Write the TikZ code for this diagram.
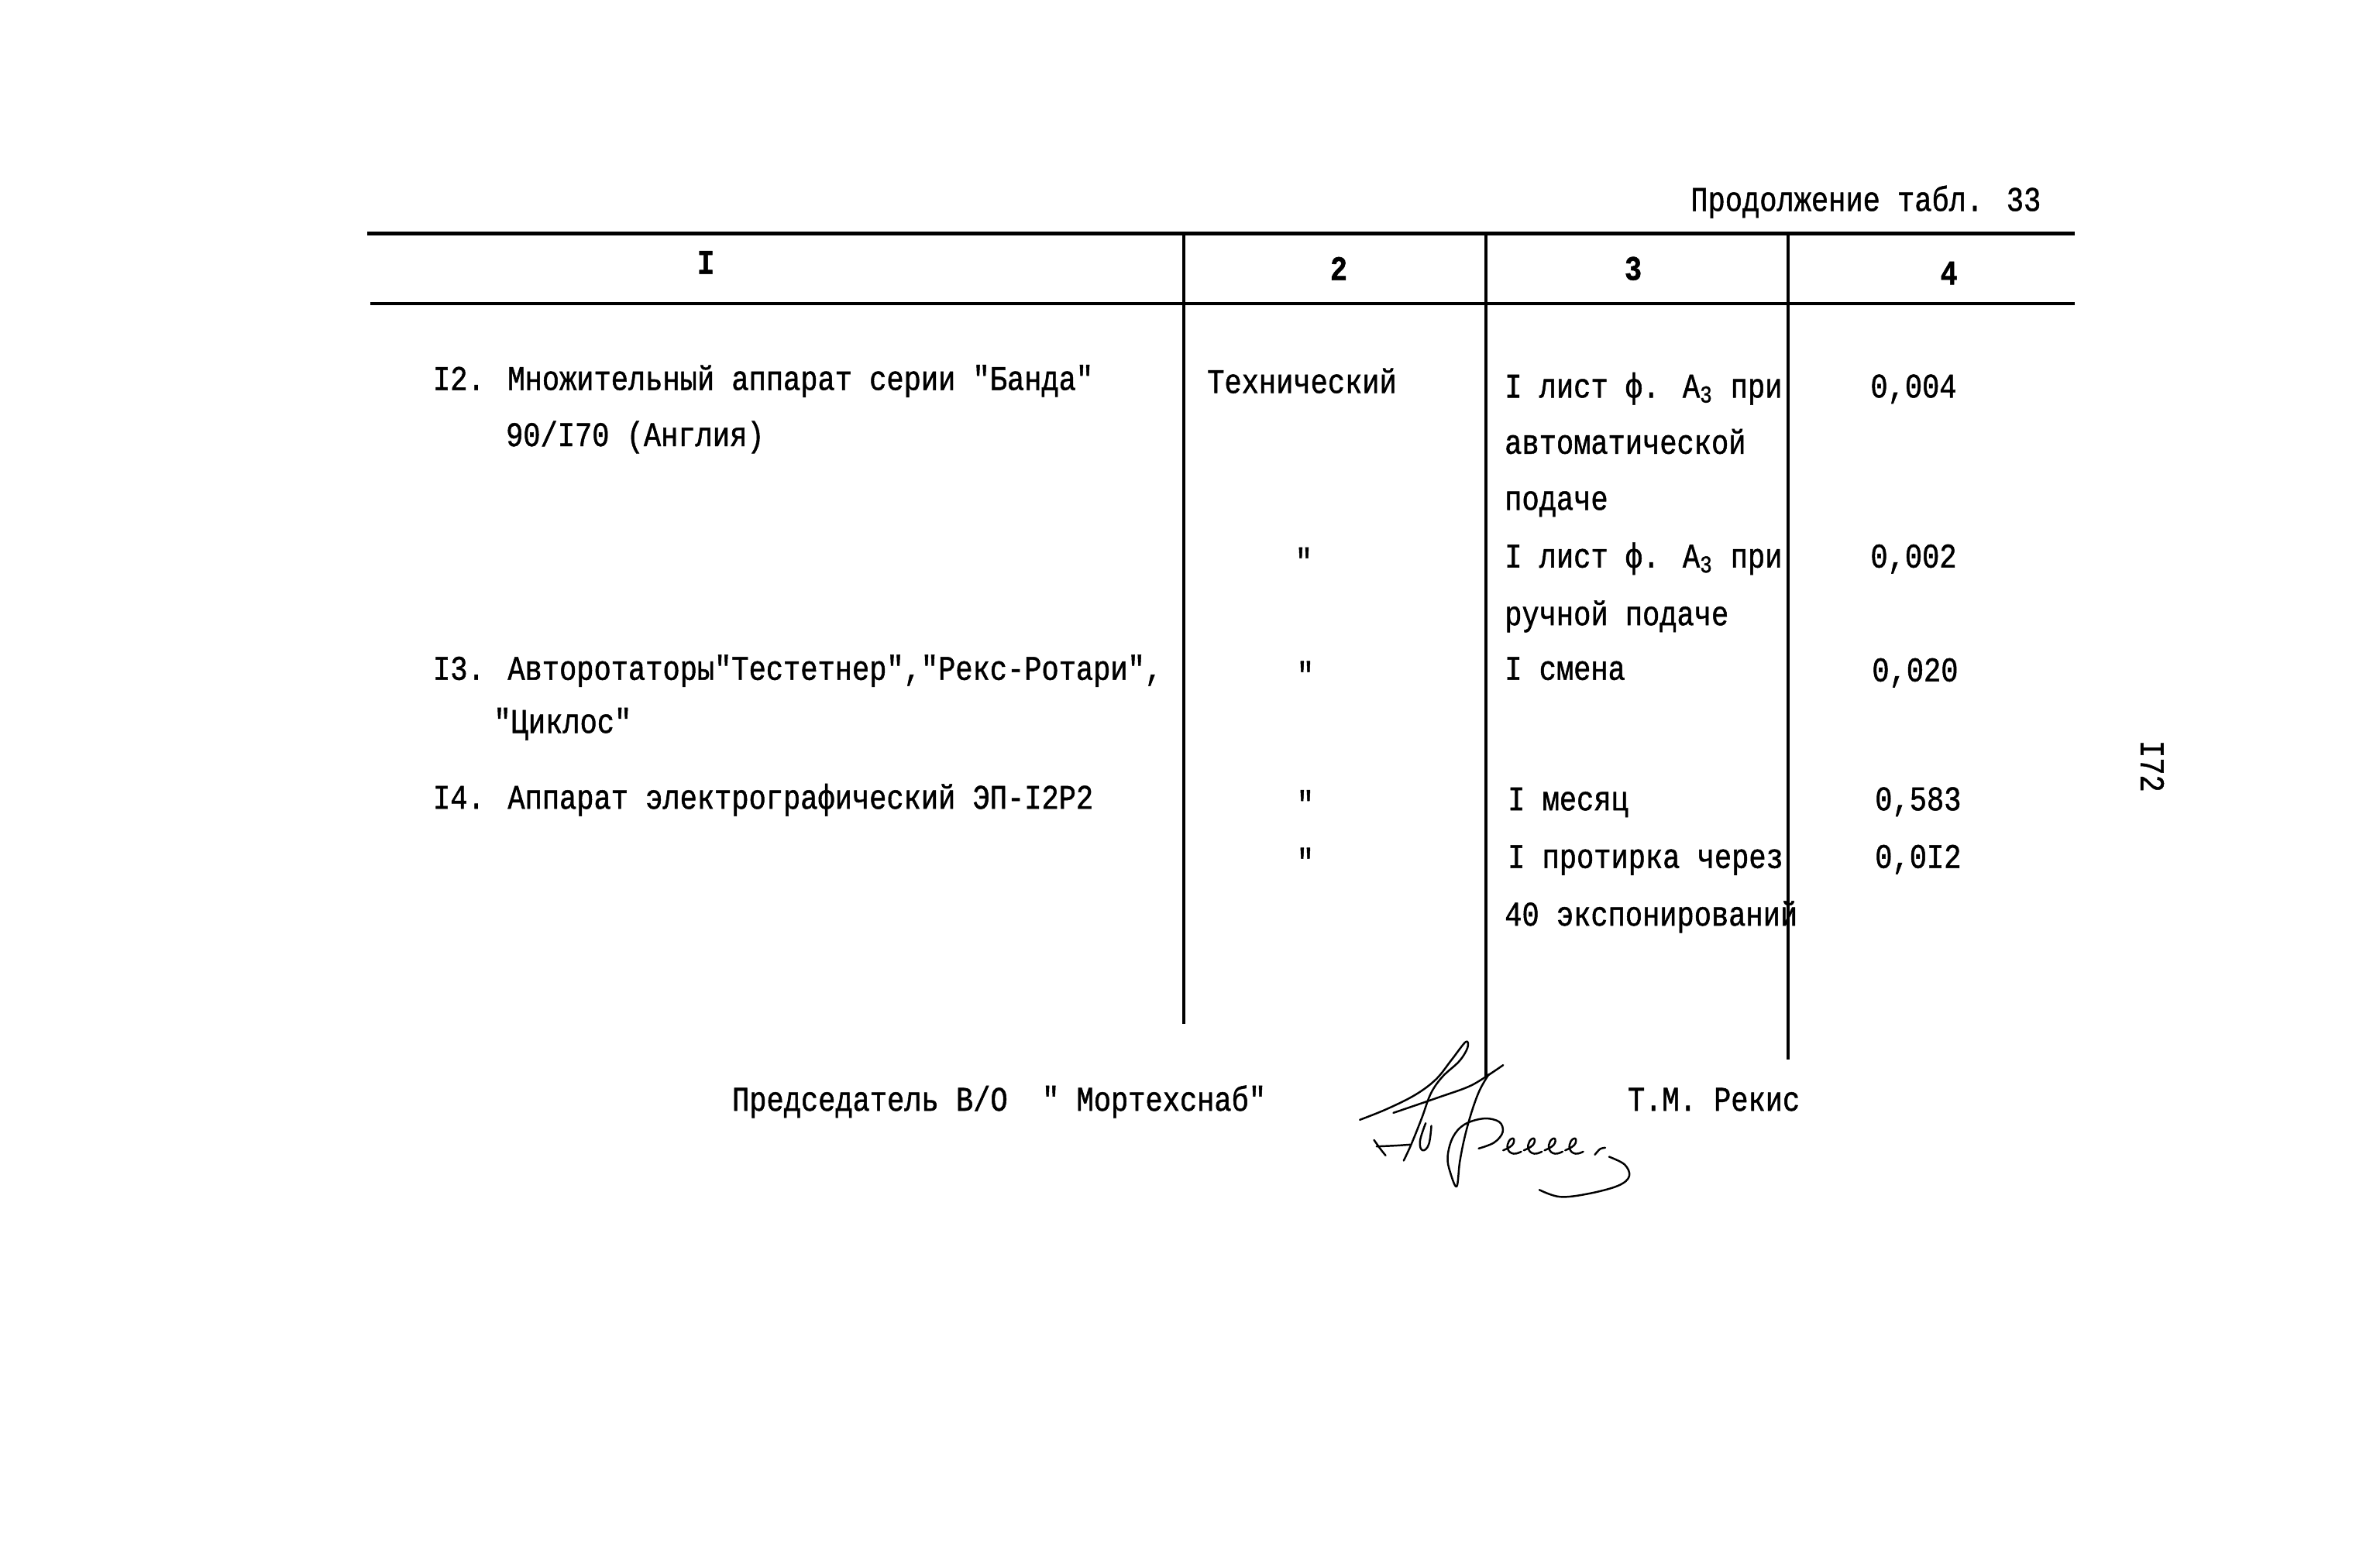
\documentclass[tikz,border=0pt]{standalone}
\usepackage{fontspec}
\setmainfont{Liberation Mono}[FakeStretch=0.83, FakeBold=1.1, Ligatures=TeXOff]
\usetikzlibrary{positioning}

\begin{document}
\begin{tikzpicture}[
    x=0.019592cm, y=-0.019592cm,
    cell/.style={anchor=base west, inner sep=0pt, font=\fontsize{12.7}{15}\selectfont},
    head/.style={anchor=center, inner sep=0pt, font=\fontsize{12.7}{15}\selectfont\bfseries},
    ditto/.style={anchor=center, inner sep=0pt, font=\fontsize{12.7}{15}\selectfont},
    rule/.style={line width=1.3pt},
    pen/.style={line width=0.7pt, line cap=round, line join=round}
]
\useasboundingbox (0,0) rectangle (1568,1025);

% Title
\node[cell, anchor=base east] (title) at (1345,139) {Продолжение табл. 33};

% Table frame
\coordinate (tl) at (242,154);
\coordinate (tr) at (1367,154);
\coordinate (hl) at (244,200);
\coordinate (hr) at (1367,200);
\draw[rule] (tl) -- (tr);
\draw[rule] (hl) -- (hr);
\draw[rule] (780,154) -- (780,675);
\draw[rule] (979,154) -- (979,710);
\draw[rule] (1178,154) -- (1178,698);

% Header
\node[head] (h1) at (465,173) {I};
\node[head] (h2) at (882,177) {2};
\node[head] (h3) at (1076,177) {3};
\node[head] (h4) at (1284,180) {4};

% Item 12
\node[cell] (n12) at (285,257) {I2. Множительный аппарат серии "Банда"};
\node[cell] (n12b) at (333,294) {90/I70 (Англия)};
\node[cell] (tech) at (795,259) {Технический};
\node[cell] (a1) at (991,262) {I лист ф. A\textsubscript{3} при};
\node[cell] (a1b) at (991,299) {автоматической};
\node[cell] (a1c) at (991,336) {подаче};
\node[cell] (v1) at (1232,262) {0,004};
\node[ditto] (d1) at (859,369) {"};
\node[cell] (a2) at (991,374) {I лист ф. A\textsubscript{3} при};
\node[cell] (a2b) at (991,412) {ручной подаче};
\node[cell] (v2) at (1232,374) {0,002};

% Item 13
\node[cell] (n13) at (285,448) {I3. Авторотаторы"Тестетнер","Рекс-Ротари",};
\node[cell] (n13b) at (325,483) {"Циклос"};
\node[ditto] (d2) at (860,444) {"};
\node[cell] (a3) at (991,448) {I смена};
\node[cell] (v3) at (1233,449) {0,020};

% Item 14
\node[cell] (n14) at (285,533) {I4. Аппарат электрографический ЭП-I2Р2};
\node[ditto] (d3) at (860,529) {"};
\node[cell] (a4) at (993,534) {I месяц};
\node[cell] (v4) at (1235,534) {0,583};
\node[ditto] (d4) at (860,567) {"};
\node[cell] (a5) at (993,572) {I протирка через};
\node[cell] (a5b) at (991,610) {40 экспонирований};
\node[cell] (v5) at (1235,572) {0,0I2};

% Signature line
\node[cell] (chair) at (482,732) {Председатель В/О~~"~Мортехснаб"};
\node[cell] (name) at (1072,732) {Т.М. Рекис};

% Page number
\node[ditto, rotate=-90] (page) at (1418,505) {I72};

% Signature
\begin{scope}[shift={(888.2,653.4)}, scale=0.1702]
\draw[pen] plot[smooth, tension=0.6] coordinates {(45,497) (150,455) (260,400) (340,340) (400,265) (455,195) (462,218) (430,270) (365,330) (320,395) (285,490) (245,590) (215,655)};
\draw[pen] plot[smooth] coordinates {(175,470) (350,410) (480,362) (600,285)};
\draw[pen] plot[smooth, tension=0.6] coordinates {(545,320) (510,380) (480,460) (452,560) (432,660) (420,755) (395,700) (385,640) (405,565) (450,515) (525,492) (585,505) (598,545) (565,585) (505,608)};
\draw[pen] plot[smooth] coordinates {(100,575) (125,610) (145,635)};
\draw[pen] plot[smooth] coordinates {(110,600) (180,597) (240,593)};
\draw[pen] plot[smooth, tension=0.7] coordinates {(300,510) (278,580) (288,615) (312,592) (322,520)};
\foreach \ex in {640,720,800,880} {
  \draw[pen] plot[smooth, tension=0.8] coordinates {(\ex-40,615) (\ex-5,595) (\ex,570) (\ex-18,580) (\ex-22,610) (\ex,628) (\ex+30,620)};
}
\draw[pen] plot[smooth] coordinates {(955,632) (975,610) (995,605)};
\draw[pen] plot[smooth, tension=0.6] coordinates {(1010,640) (1070,670) (1088,715) (1045,752) (930,783) (820,795) (740,768)};
\end{scope}

\end{tikzpicture}
\end{document}
